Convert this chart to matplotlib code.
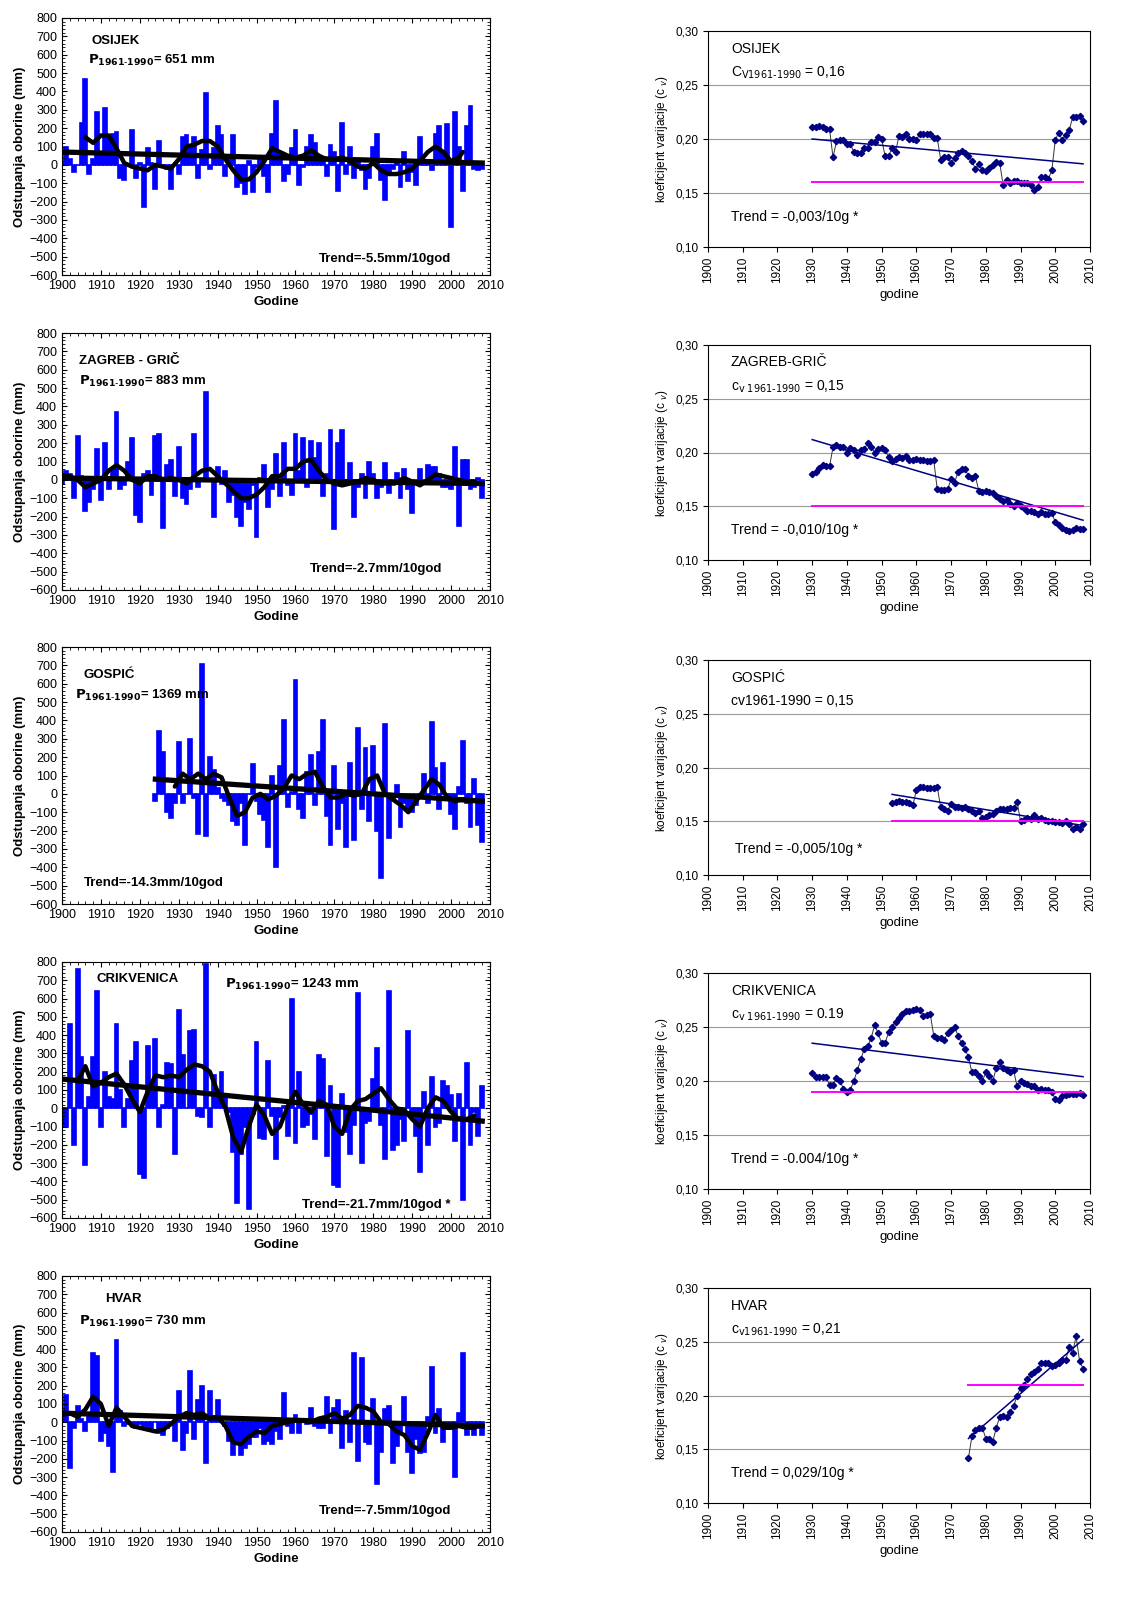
import numpy as np
import matplotlib.pyplot as plt
from matplotlib.ticker import MultipleLocator, FuncFormatter

years = list(range(1900, 2009))

osijek = [10,100,30,-40,0,230,470,-50,30,290,
          60,310,150,170,180,-70,-80,0,190,-70,
          10,-230,90,10,-130,130,-10,-20,-130,0,
          -50,150,160,100,150,-70,80,390,-20,90,
          210,160,-60,30,160,-120,-100,-160,20,-150,
          -10,40,-60,-150,170,350,60,-90,-50,90,
          190,-110,-10,100,160,120,30,20,-60,110,
          70,-140,230,-50,100,-70,30,-30,-130,-70,
          100,170,-80,-190,-50,-20,20,-120,70,-90,
          -40,-110,150,20,20,-30,170,210,60,220,
          -340,290,100,-140,210,320,-20,-30,-20]
osijek_sm_y = list(range(1906, 2004, 2)) + [2003]
osijek_sm = [150,120,160,160,90,10,-10,-20,-30,0,-10,-20,30,100,110,130,130,100,30,-30,
             -80,-80,-40,20,90,70,50,40,50,80,50,30,30,40,20,-10,-20,10,-30,-50,
             -50,-40,-20,20,70,100,70,20,40,70]
osijek_tr = [70, 10]

zagreb = [-20,50,30,-100,240,20,-170,-120,-50,170,
          -110,200,-50,60,370,-50,-30,100,230,-190,
          -230,30,50,-80,240,250,-260,80,110,-90,
          180,-100,-130,-50,250,-40,0,480,0,-200,
          70,-20,50,-120,-80,-200,-250,-120,-160,-30,
          -310,10,80,-150,-50,140,-90,200,-30,-80,
          250,50,230,-40,210,120,200,-90,30,270,
          -270,200,270,-20,90,-200,-40,30,-100,100,
          30,-100,-40,90,-70,-30,40,-100,60,-50,
          -180,-20,60,-20,80,70,70,30,-40,-40,
          -50,180,-250,110,110,-50,-40,10,-100]
zagreb_sm_y = list(range(1900, 2008, 2))
zagreb_sm = [20,20,0,-40,-20,0,50,80,50,0,-20,20,20,0,10,0,-20,20,50,60,
             20,-20,-60,-100,-100,-80,-40,20,20,60,60,100,110,50,0,-20,-30,-20,-10,10,
             0,-20,-20,-10,10,-10,-30,0,30,20,10,0,-10,-10]
zagreb_tr = [10, -20]

gospic_y = list(range(1924, 2009))
gospic = [-40,340,230,-100,-130,-50,
          280,-50,0,300,-20,-220,710,-230,200,130,
          30,-20,-40,-60,-150,-170,-50,-280,0,160,
          -40,-110,-140,-290,100,-400,150,400,-70,10,
          620,-80,-130,120,210,-60,230,400,-120,-280,
          150,-190,-50,-290,170,-250,360,-80,250,-150,
          260,-200,-460,380,-240,-30,50,-180,-50,-90,
          -100,-60,-20,110,-50,390,140,-80,170,-30,
          -110,-190,40,290,-50,-180,80,-170,-260]
gospic_sm_y = list(range(1929, 2007, 2))
gospic_sm = [40,110,80,110,80,110,90,-20,-120,-100,-20,0,-30,-10,30,100,80,110,120,40,
             -20,-20,0,-10,0,80,100,0,-30,-60,-100,-40,20,80,50,-20,-40,-30,-40]
gospic_tr = [80, -40]
gospic_tr_y = [1924, 2008]

crikvenica = [-100,-100,460,-200,760,280,-310,60,280,640,
              -100,200,60,50,460,100,-100,50,260,360,
              -360,-380,340,120,380,-100,20,250,240,-250,
              540,290,0,420,430,-40,-50,790,-100,180,
              100,200,60,-20,-240,-520,-250,-100,-550,-30,
              360,-160,-170,260,-40,-280,-50,10,-150,600,
              -190,200,-100,-90,-30,-170,290,270,-260,120,
              -420,-430,80,-130,-250,-90,630,-300,-80,-70,
              160,330,-90,-280,640,-230,-200,-60,-180,420,
              -50,-150,-350,90,-200,170,-100,-80,150,120,
              70,-180,80,-500,250,-200,-20,-150,120]
crik_sm_y = list(range(1904, 2008, 2))
crik_sm = [150,230,120,140,170,190,130,50,-20,90,180,170,180,170,210,240,230,200,90,0,
           -160,-240,-100,20,-40,-140,-100,10,90,20,-20,40,20,-100,-140,-10,40,50,80,110,
           50,0,-10,-60,-100,0,60,40,-20,-60,-60,-40]
crik_tr = [160, -70]

hvar = [60,150,-250,-30,90,20,-50,50,380,360,
        -100,-60,-130,-270,450,60,-20,-10,-10,-30,
        -10,-20,-40,-50,0,-60,-70,-30,-10,-100,
        170,-150,-60,280,-90,120,200,-220,170,30,
        120,20,-20,-100,-180,-100,-180,-140,-120,-80,
        -80,-30,-120,-100,-120,-50,-90,160,-20,-60,
        40,-60,0,-10,80,-20,-30,-30,140,-60,
        80,120,-140,60,-110,380,-210,350,-110,-120,
        130,-340,-160,70,90,-220,-130,-60,140,-160,
        -280,-90,-170,-160,30,300,-60,70,-110,0,
        -30,-300,50,380,-70,-20,-70,-30,-70]
hvar_sm_y = list(range(1900, 2008, 2))
hvar_sm = [40,50,30,70,140,100,-20,80,30,-20,-30,-40,-50,-40,-10,30,50,40,50,20,
           30,-20,-110,-120,-80,-50,-60,-20,-10,0,10,10,0,20,30,50,20,40,90,80,
           60,0,-10,-50,-70,-130,-150,-60,40,-30,-30,-20,-30,-30]
hvar_tr = [50, -20]

cv_y30 = list(range(1930, 2009))
cv_osijek = [.211,.211,.212,.211,.209,.209,.183,.198,.199,.199,
             .195,.195,.188,.187,.187,.192,.192,.197,.197,.202,
             .200,.184,.184,.192,.188,.203,.202,.205,.200,.200,
             .199,.205,.205,.205,.205,.201,.201,.181,.183,.183,
             .178,.182,.187,.189,.187,.184,.180,.172,.177,.171,
             .170,.173,.176,.179,.178,.157,.162,.159,.161,.161,
             .159,.159,.159,.157,.153,.156,.165,.165,.163,.171,
             .199,.206,.199,.204,.208,.220,.220,.221,.217]
cv_zagreb = [.180,.182,.186,.188,.187,.187,.205,.207,.205,.205,
             .200,.204,.202,.198,.202,.203,.209,.205,.200,.203,
             .204,.202,.196,.192,.194,.196,.195,.197,.193,.193,
             .194,.193,.193,.192,.192,.193,.166,.165,.165,.166,
             .175,.172,.182,.185,.185,.178,.176,.178,.164,.163,
             .164,.163,.162,.160,.157,.155,.156,.152,.150,.153,
             .150,.148,.146,.146,.145,.143,.145,.143,.143,.144,
             .135,.133,.130,.128,.127,.128,.130,.129,.129]
cv_y53 = list(range(1953, 2009))
cv_gospic = [.167,.168,.169,.168,.168,.167,.165,
             .179,.182,.182,.181,.181,.181,.182,.163,.161,.160,
             .166,.163,.163,.162,.163,.161,.160,.158,.160,.153,
             .154,.156,.157,.160,.161,.161,.161,.162,.162,.168,
             .150,.151,.153,.152,.156,.152,.153,.151,.150,.150,
             .149,.149,.148,.150,.147,.143,.145,.143,.147]
cv_crik = [.207,.204,.204,.204,.204,.196,.196,.203,.200,.193,
           .190,.192,.200,.210,.220,.230,.232,.240,.252,.244,
           .235,.235,.245,.250,.255,.258,.262,.265,.265,.266,
           .267,.266,.260,.261,.262,.242,.240,.240,.238,.244,
           .247,.250,.242,.235,.230,.222,.208,.208,.205,.200,
           .208,.205,.200,.212,.218,.212,.210,.208,.210,.195,
           .200,.198,.197,.195,.195,.192,.193,.192,.192,.190,
           .183,.182,.186,.187,.188,.188,.188,.189,.187]
cv_y75 = list(range(1975, 2009))
cv_hvar = [.142,.162,.168,.170,.170,
           .160,.160,.157,.170,.180,.181,.180,.185,.190,.200,
           .207,.210,.215,.220,.222,.225,.230,.230,.230,.227,
           .228,.230,.233,.233,.245,.240,.255,.232,.225]

W, H = 1128, 1609
fig = plt.figure(figsize=(W/100, H/100), dpi=100)
plt.rcParams['font.family'] = ['Liberation Sans', 'DejaVu Sans']

left_rows = [(18, 275), (333, 590), (647, 904), (962, 1218), (1276, 1532)]
right_rows = [(31, 247), (345, 560), (660, 875), (973, 1189), (1288, 1503)]

def left_ax(row):
    t, b = left_rows[row]
    return fig.add_axes([62/W, 1-b/H, 428/W, (b-t)/H])

def right_ax(row):
    t, b = right_rows[row]
    return fig.add_axes([708/W, 1-b/H, 382/W, (b-t)/H])

def draw_left(ax, x, vals, smy, sm, tr_y, tr, name, namexy, ptxt, pxy, trend, trxy):
    ax.bar(x, vals, width=1.0, color='#0000ff', edgecolor='#0000ff', linewidth=1.2)
    ax.plot(smy, sm, color='black', lw=3.2, solid_capstyle='round')
    ax.plot(tr_y, tr, color='black', lw=3.8)
    ax.set_xlim(1900, 2010)
    ax.set_ylim(-600, 800)
    ax.xaxis.set_major_locator(MultipleLocator(10))
    ax.yaxis.set_major_locator(MultipleLocator(100))
    ax.xaxis.set_minor_locator(MultipleLocator(2))
    ax.yaxis.set_minor_locator(MultipleLocator(20))
    ax.tick_params(which='both', direction='in', top=True, right=True, labelsize=9)
    ax.tick_params(which='minor', length=2)
    ax.set_xlabel('Godine', fontsize=9.5, fontweight='bold', labelpad=3)
    ax.set_ylabel('Odstupanja oborine (mm)', fontsize=9.5, fontweight='bold', labelpad=2)
    ax.text(*namexy, name, transform=ax.transAxes, fontsize=9.5, fontweight='bold')
    ax.text(*pxy, r'$\mathbf{P_{1961\text{-}1990}}$' + ptxt, transform=ax.transAxes, fontsize=9.5, fontweight='bold')
    ax.text(*trxy, trend, transform=ax.transAxes, fontsize=9.5, fontweight='bold')

def draw_right(ax, x, vals, tr_y, tr, mean, name, cvtxt, trend, trxy=(0.06, 0.12)):
    for g in (0.15, 0.20, 0.25):
        ax.axhline(g, color='#999999', lw=0.8, zorder=0)
    ax.plot(x, vals, color='#333333', lw=0.7, marker='D', ms=3.2, mfc='#000080', mec='#000080')
    ax.plot(tr_y, tr, color='#000080', lw=1.1)
    ax.plot([x[0], x[-1]], [mean, mean], color='#ff00ff', lw=1.4)
    ax.set_xlim(1900, 2010)
    ax.set_ylim(0.10, 0.30)
    ax.xaxis.set_major_locator(MultipleLocator(10))
    ax.yaxis.set_major_locator(MultipleLocator(0.05))
    ax.yaxis.set_major_formatter(FuncFormatter(lambda v, p: f'{v:.2f}'.replace('.', ',')))
    ax.tick_params(labelsize=8.5)
    ax.tick_params(axis='x', rotation=90)
    ax.set_xlabel('godine', fontsize=9.5)
    ax.set_ylabel('koeficijent varijacije (c $_v$)', fontsize=8.5)
    ax.text(0.06, 0.9, name, transform=ax.transAxes, fontsize=10)
    ax.text(0.06, 0.79, cvtxt, transform=ax.transAxes, fontsize=10)
    ax.text(*trxy, trend, transform=ax.transAxes, fontsize=10)

ax = left_ax(0)
draw_left(ax, years, osijek, osijek_sm_y, osijek_sm, [1900, 2008], osijek_tr, 'OSIJEK', (0.07, 0.9),
          '= 651 mm', (0.06, 0.82), 'Trend=-5.5mm/10god', (0.6, 0.05))
ax = left_ax(1)
draw_left(ax, years, zagreb, zagreb_sm_y, zagreb_sm, [1900, 2008], zagreb_tr, 'ZAGREB - GRIČ', (0.04, 0.88),
          '= 883 mm', (0.04, 0.8), 'Trend=-2.7mm/10god', (0.58, 0.07))
ax = left_ax(2)
draw_left(ax, gospic_y, gospic, gospic_sm_y, gospic_sm, gospic_tr_y, gospic_tr, 'GOSPIĆ', (0.05, 0.88),
          '= 1369 mm', (0.03, 0.8), 'Trend=-14.3mm/10god', (0.05, 0.07))
ax = left_ax(3)
draw_left(ax, years, crikvenica, crik_sm_y, crik_sm, [1900, 2008], crik_tr, 'CRIKVENICA', (0.08, 0.92),
          '= 1243 mm', (0.38, 0.9), 'Trend=-21.7mm/10god *', (0.56, 0.04))
ax = left_ax(4)
draw_left(ax, years, hvar, hvar_sm_y, hvar_sm, [1900, 2008], hvar_tr, 'HVAR', (0.1, 0.9),
          '= 730 mm', (0.04, 0.81), 'Trend=-7.5mm/10god', (0.6, 0.07))

ax = right_ax(0)
draw_right(ax, cv_y30, cv_osijek, [1930, 2008], [0.200, 0.177], 0.16, 'OSIJEK',
           r'C$_{\rm V1961\text{-}1990}$ = 0,16', 'Trend = -0,003/10g *')
ax = right_ax(1)
draw_right(ax, cv_y30, cv_zagreb, [1930, 2008], [0.212, 0.137], 0.15, 'ZAGREB-GRIČ',
           r'c$_{\rm v\ 1961\text{-}1990}$ = 0,15', 'Trend = -0,010/10g *')
ax = right_ax(2)
draw_right(ax, cv_y53, cv_gospic, [1953, 2008], [0.175, 0.146], 0.15, 'GOSPIĆ',
           'cv1961-1990 = 0,15', 'Trend = -0,005/10g *', (0.07, 0.1))
ax = right_ax(3)
draw_right(ax, cv_y30, cv_crik, [1930, 2008], [0.235, 0.204], 0.19, 'CRIKVENICA',
           r'c$_{\rm v\ 1961\text{-}1990}$ = 0.19', 'Trend = -0.004/10g *')
ax = right_ax(4)
draw_right(ax, cv_y75, cv_hvar, [1975, 2008], [0.160, 0.252], 0.21, 'HVAR',
           r'c$_{\rm v1961\text{-}1990}$ = 0,21', 'Trend = 0,029/10g *')

fig.savefig('out.png', dpi=100)
